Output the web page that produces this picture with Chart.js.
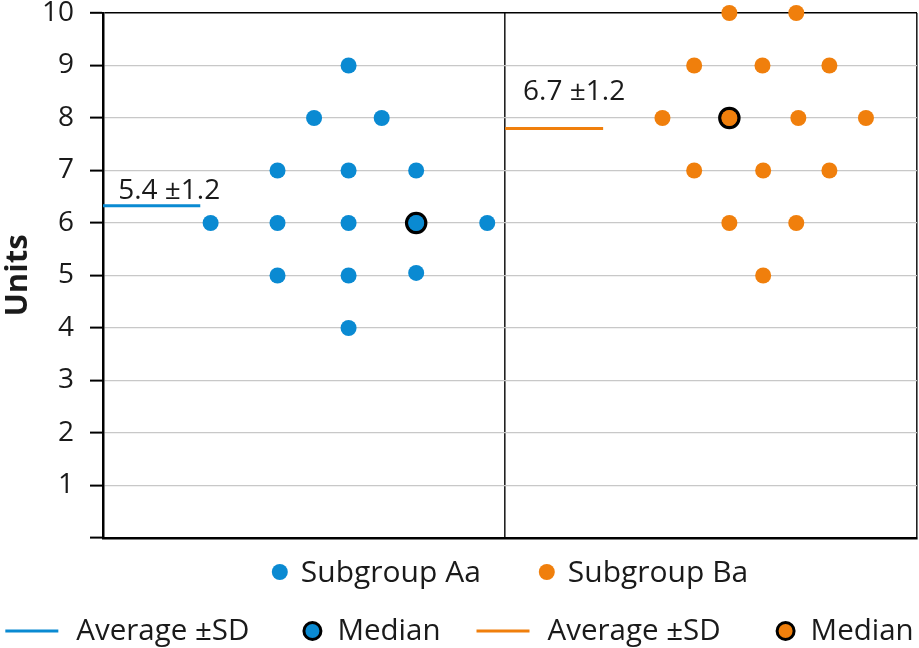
<!DOCTYPE html>
<html>
<head>
<meta charset="utf-8">
<script src="https://cdn.jsdelivr.net/npm/chart.js@4.4.1/dist/chart.umd.min.js"></script>
<style>
  html, body { margin: 0; padding: 0; background: #fff; }
  #wrap { width: 919px; height: 648px; }
</style>
</head>
<body>
<div id="wrap"><canvas id="dotChart" width="919" height="648"></canvas></div>
<script>
// Subgroup Aa points
var aaX = [3.56, 3.06, 4.04, 2.53, 3.56, 4.54, 1.56, 2.53, 3.56, 4.54, 5.57, 2.53, 3.56, 4.54, 3.56];
var aaY = [9, 8, 8, 7, 7, 7, 6, 6, 6, 6, 6, 5, 5, 5.05, 4];
// Subgroup Ba points
var baX = [9.08, 10.05, 8.57, 9.56, 10.53, 8.11, 9.08, 10.08, 11.06, 8.57, 9.57, 10.53, 9.08, 10.05, 9.57];
var baY = [10, 10, 9, 9, 9, 8, 8, 8, 8, 7, 7, 7, 6, 6, 5];
// medians
var aaMedian = [4.54, 6];
var baMedian = [9.08, 8];
// average lines (x start, x end, y)
var aaAvgLine = [0, 1.41, 6.33];
var baAvgLine = [5.83, 7.25, 7.8];
var aaAvgText = '5.4 ±1.2';
var baAvgText = '6.7 ±1.2';
var groupDivider = 5.83;
var xMax = 11.8;
var yTicks = [0, 1, 2, 3, 4, 5, 6, 7, 8, 9, 10];

var BLUE = '#0a8ad2';
var ORANGE = '#f07f0c';
var TEXT = '#1a1a1a';
var FONT = "'Open Sans', 'Noto Sans', sans-serif";

function toPoints(xs, ys) {
  var pts = [];
  for (var i = 0; i < xs.length; i++) {
    pts.push({x: xs[i], y: ys[i]});
  }
  return pts;
}

// labels above average lines, placed in data units
var avgLabels = [
  {text: aaAvgText, x: 0.22, y: 6.6},
  {text: baAvgText, x: 6.09, y: 8.5}
];

var avgLabelPlugin = {
  id: 'avgLabels',
  afterDatasetsDraw: function(chart) {
    var ctx = chart.ctx;
    var xs = chart.scales.x, ys = chart.scales.y;
    ctx.save();
    ctx.font = '28px ' + FONT;
    ctx.fillStyle = TEXT;
    ctx.textBaseline = 'middle';
    ctx.textAlign = 'left';
    avgLabels.forEach(function(l) {
      ctx.fillText(l.text, xs.getPixelForValue(l.x), ys.getPixelForValue(l.y));
    });
    ctx.restore();
  }
};

var legendPlugin = {
  id: 'twoRowLegend',
  afterDraw: function(chart) {
    var ctx = chart.ctx;
    ctx.save();
    ctx.textBaseline = 'middle';
    ctx.textAlign = 'left';

    // row 1: subgroups, centered under plot area
    ctx.font = '30px ' + FONT;
    var row1 = [{color: BLUE, text: 'Subgroup Aa'}, {color: ORANGE, text: 'Subgroup Ba'}];
    var dotR = 8, dotGap = 13, itemGap = 58;
    var w1 = 0;
    row1.forEach(function(it, i) {
      it.w = dotR * 2 + dotGap + ctx.measureText(it.text).width;
      w1 += it.w + (i ? itemGap : 0);
    });
    var area = chart.chartArea;
    var x = (area.left + area.right) / 2 - w1 / 2;
    var y1 = 572;
    row1.forEach(function(it) {
      ctx.beginPath();
      ctx.arc(x + dotR, y1, dotR, 0, Math.PI * 2);
      ctx.fillStyle = it.color;
      ctx.fill();
      ctx.fillStyle = TEXT;
      ctx.fillText(it.text, x + dotR * 2 + dotGap, y1 + 1);
      x += it.w + itemGap;
    });

    // row 2: average and median keys
    ctx.font = '29.5px ' + FONT;
    var row2 = [
      {kind: 'line', color: BLUE, text: 'Average ±SD', gap: 53},
      {kind: 'median', color: BLUE, text: 'Median', gap: 36},
      {kind: 'line', color: ORANGE, text: 'Average ±SD', gap: 55},
      {kind: 'median', color: ORANGE, text: 'Median', gap: 0}
    ];
    var lineLen = 53, lineGap = 18, medR = 8.5, medB = 3, medGap = 15;
    var w2 = 0;
    row2.forEach(function(it) {
      var key = it.kind === 'line' ? lineLen + lineGap : (medR + medB / 2) * 2 + medGap;
      it.w = key + ctx.measureText(it.text).width;
      w2 += it.w + it.gap;
    });
    x = chart.width / 2 - w2 / 2;
    var y2 = 631;
    row2.forEach(function(it) {
      var tx;
      if (it.kind === 'line') {
        ctx.beginPath();
        ctx.moveTo(x, y2);
        ctx.lineTo(x + lineLen, y2);
        ctx.strokeStyle = it.color;
        ctx.lineWidth = 3;
        ctx.stroke();
        tx = x + lineLen + lineGap;
      } else {
        var o = medR + medB / 2;
        ctx.beginPath();
        ctx.arc(x + o, y2, medR, 0, Math.PI * 2);
        ctx.fillStyle = it.color;
        ctx.fill();
        ctx.lineWidth = medB;
        ctx.strokeStyle = '#000';
        ctx.stroke();
        tx = x + o * 2 + medGap;
      }
      ctx.fillStyle = TEXT;
      ctx.fillText(it.text, tx, y2 + 1);
      x += it.w + it.gap;
    });
    ctx.restore();
  }
};

Chart.defaults.font.family = FONT;
Chart.defaults.font.size = 28;
Chart.defaults.color = TEXT;

var ctxDot = document.getElementById('dotChart');
var dotChart = new Chart(ctxDot, {
  type: 'scatter',
  data: {
    datasets: [
      {
        label: 'Subgroup Aa',
        data: toPoints(aaX, aaY),
        backgroundColor: BLUE,
        borderWidth: 0,
        pointRadius: 8,
        clip: false
      },
      {
        label: 'Subgroup Ba',
        data: toPoints(baX, baY),
        backgroundColor: ORANGE,
        borderWidth: 0,
        pointRadius: 8,
        clip: false
      },
      {
        label: 'Average ±SD Aa',
        data: [{x: aaAvgLine[0], y: aaAvgLine[2]}, {x: aaAvgLine[1], y: aaAvgLine[2]}],
        showLine: true,
        borderColor: BLUE,
        borderWidth: 3,
        pointRadius: 0
      },
      {
        label: 'Average ±SD Ba',
        data: [{x: baAvgLine[0], y: baAvgLine[2]}, {x: baAvgLine[1], y: baAvgLine[2]}],
        showLine: true,
        borderColor: ORANGE,
        borderWidth: 3,
        pointRadius: 0
      },
      {
        label: 'Median Aa',
        data: [{x: aaMedian[0], y: aaMedian[1]}],
        backgroundColor: BLUE,
        borderColor: '#000',
        borderWidth: 3.5,
        pointRadius: 9.5,
        clip: false
      },
      {
        label: 'Median Ba',
        data: [{x: baMedian[0], y: baMedian[1]}],
        backgroundColor: ORANGE,
        borderColor: '#000',
        borderWidth: 3.5,
        pointRadius: 9.5,
        clip: false
      }
    ]
  },
  options: {
    responsive: false,
    animation: false,
    layout: { autoPadding: false, padding: {left: 0, top: 13, right: 2, bottom: 110} },
    plugins: {
      legend: { display: false },
      tooltip: { enabled: false }
    },
    scales: {
      x: {
        type: 'linear',
        min: 0,
        max: xMax,
        afterBuildTicks: function(scale) {
          scale.ticks = [{value: groupDivider}, {value: xMax}];
        },
        afterFit: function(scale) {
          scale.height = 0;
          scale.paddingLeft = 0;
          scale.paddingRight = 0;
        },
        ticks: { display: false },
        grid: {
          color: '#222',
          lineWidth: 1.6,
          drawTicks: false
        },
        border: { color: '#000', width: 2.5 }
      },
      y: {
        min: 0,
        max: 10,
        afterBuildTicks: function(scale) {
          scale.ticks = yTicks.map(function(v) { return {value: v}; });
        },
        afterFit: function(scale) {
          scale.width = 103;
          scale.paddingTop = 0;
          scale.paddingBottom = 0;
        },
        ticks: {
          padding: 16,
          font: { size: 28 },
          callback: function(v) { return v === 0 ? '' : v; }
        },
        grid: {
          color: function(c) {
            if (c.tick && c.tick.value === 10) return '#000';
            return '#c8c8c8';
          },
          lineWidth: function(c) {
            return c.tick && c.tick.value === 10 ? 1.6 : 1.2;
          },
          tickColor: '#000',
          tickLength: 13,
          tickWidth: 2
        },
        border: { color: '#000', width: 2.5 },
        title: {
          display: true,
          text: 'Units',
          font: { size: 31, weight: 'bold' },
          padding: {top: 0, bottom: 0}
        }
      }
    }
  },
  plugins: [avgLabelPlugin, legendPlugin]
});
</script>
</body>
</html>
